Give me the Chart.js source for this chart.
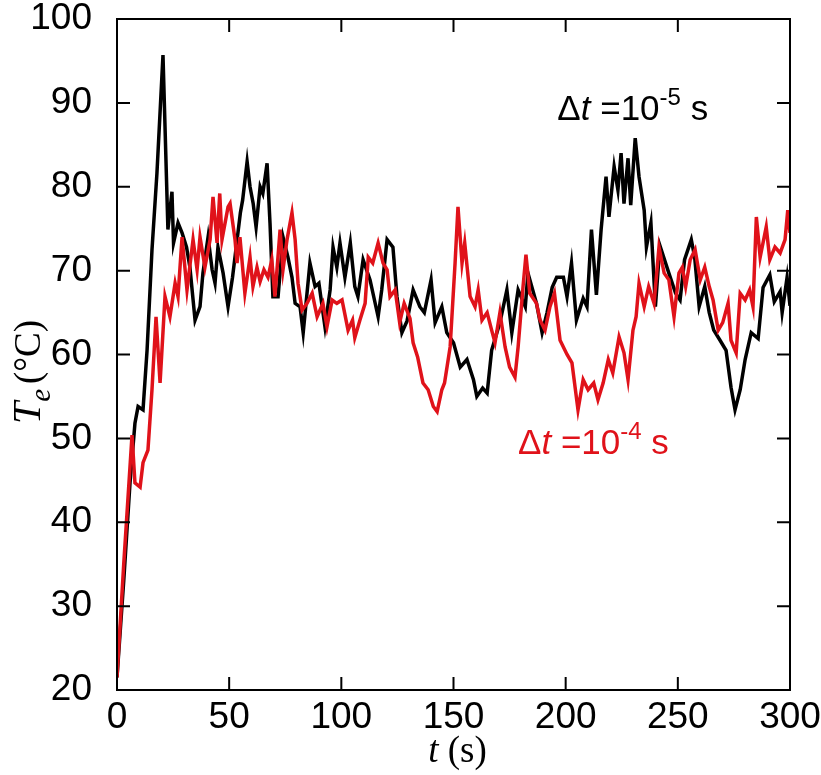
<!DOCTYPE html>
<html>
<head>
<meta charset="utf-8">
<script src="https://cdn.jsdelivr.net/npm/chart.js@4.4.1/dist/chart.umd.min.js"></script>
<style>
  html, body { margin: 0; padding: 0; background: #fff; }
</style>
</head>
<body>
<canvas id="chart" width="821" height="775"></canvas>
<script>
// time (s) and electron temperature (°C)
const blackTime = [0, 3, 5.8, 8, 9.4, 11.6, 13.4, 15.6, 17.8, 20.5, 22.7, 24.5, 25.2, 27.2, 29, 31, 32.5, 34.8, 37, 38.3,
  40.6, 42.4, 43.7, 45, 47.3, 49.5, 51.5, 55, 56, 58, 59.3, 60.7, 62, 63.8, 65, 66.9, 68.2, 69.5, 71.8, 74,
  76.2, 78, 79.4, 81.6, 83, 86, 88.3, 90, 92.7, 95, 96.3, 98, 99.4, 101.6, 104, 106, 107.4, 109.7, 112.8, 116.4,
  118, 120.4, 123, 124.8, 127, 129.3, 132, 135, 137, 140, 141.8, 144.8, 147, 150, 153, 156, 158.9, 160.4, 163, 165,
  167, 170.7, 173.8, 176, 178.8, 182, 183.2, 187, 189.5, 191.7, 194, 196, 199, 200.6, 202.6, 204.8, 207.8, 209.5, 211.5, 213.7,
  215.8, 218, 219.3, 221.6, 223.3, 224.7, 226, 227.8, 229, 231, 232.7, 235, 236, 238, 240, 242, 246, 249, 251, 253,
  256, 257.5, 259.5, 262, 264, 266, 268.8, 271.5, 273.7, 275.5, 277.8, 280, 282.7, 285.8, 288, 291, 293, 295.6, 296.5, 298.7, 300];
const blackTemp = [21.5, 33, 44.7, 51.8, 53.8, 53.4, 60.5, 72.5, 81.6, 95.7, 74.9, 79.4, 73.3, 75.7, 74.5, 72.8, 70.4, 64.1, 65.7, 69.7,
  74, 70.1, 68.5, 72.8, 69.7, 65.7, 69.2, 76.9, 78.4, 83, 80, 78, 75.2, 80, 79.2, 82.8, 75.7, 66.9, 66.9, 74,
  71.6, 69.2, 66.1, 65.7, 62.6, 70.9, 68.1, 68.5, 63.3, 67.7, 72.8, 70.4, 73.3, 69.2, 73.3, 68.1, 66.9, 71.3, 68.9, 64.5,
  67.7, 73.7, 72.8, 66.9, 62.6, 64, 67.7, 65.7, 65, 68.9, 63.8, 65.7, 62.6, 61.4, 58.5, 59.4, 57, 55, 56, 55.4,
  60.5, 63.8, 67.7, 62.6, 67.7, 65.7, 69.7, 66.1, 62.6, 65, 68, 69.2, 69.2, 66.9, 70.9, 64.1, 66.7, 65.7, 74.9, 67.1,
  74.9, 81.2, 76.4, 82.4, 79.6, 84, 78, 83.4, 77.8, 85.8, 81.2, 77.2, 72.8, 75.7, 65.7, 73, 69.7, 67.3, 66.5, 71.3,
  73.7, 71.6, 65.7, 68.1, 65, 62.9, 61.7, 60.5, 56.1, 53.4, 55.8, 59.4, 62.6, 61.9, 68, 69.5, 66.3, 67.5, 65, 69.2, 65.8];

const redTime = [0, 3, 6.7, 8, 10.3, 11.6, 13.8, 15.6, 17.4, 19.2, 21.4, 23.6, 25.9, 27.2, 29, 31.2, 33.9, 35.7, 37, 39.2,
  41.5, 42.8, 44.6, 45.8, 46.8, 49.5, 50.4, 52.6, 53.5, 54.8, 57, 59.3, 60.6, 62.4, 63.8, 65.5, 67.3, 69, 70.4, 72.7,
  74, 75.8, 78, 79.4, 80.7, 82.5, 84.7, 87, 89.2, 91.8, 93.6, 95.9, 98, 100.3, 103, 105, 106, 108.3, 110.6, 112,
  114, 116.4, 118.6, 120.4, 121.7, 124, 126, 128, 130.6, 132, 134, 136.4, 138.7, 141, 142.7, 144.8, 146, 148.5, 150.7, 152,
  153.8, 155, 157.4, 159.6, 161, 162.7, 165, 167, 168.5, 170.7, 173, 175, 177.4, 178.8, 181, 182.3, 184, 187, 188.6, 190.8,
  193, 195, 197.5, 200.6, 202.8, 205.5, 207.8, 210, 212.5, 214.4, 216.7, 219, 221, 223.8, 226, 227.8, 230, 231.4, 232.7, 235,
  237, 239.4, 241.6, 243.9, 246, 248.3, 250.5, 252, 253.5, 255.5, 257.7, 260, 262, 264, 265.7, 268, 270, 272.4, 273.7, 276,
  277.8, 280, 282, 283.5, 285, 286.7, 289.4, 291, 293.3, 295.6, 297.8, 299, 300];
const redTemp = [21.5, 35, 50.4, 44.7, 44.2, 47.1, 48.6, 55.8, 64.5, 56.6, 66.9, 64.5, 68.5, 66.9, 74, 67.7, 73.7, 70.1, 74, 70.4,
  73.7, 78.8, 73.3, 79.2, 73.7, 77.6, 78, 73.7, 70.9, 74, 67.3, 71.6, 68.1, 70.4, 68.7, 70.1, 69.2, 71.3, 66.9, 74.9,
  70.1, 73.7, 76.9, 73.7, 68.5, 65.3, 66.1, 67.3, 64.5, 66.1, 63.3, 66.5, 66.1, 66.5, 62.9, 64.1, 62, 64.1, 66.1, 71.6,
  70.9, 73.3, 70.9, 70.1, 66.9, 67.7, 63.8, 66.1, 64.3, 61.4, 59.7, 56.6, 55.8, 53.8, 53.2, 55.8, 56.6, 60.9, 70.9, 77.6,
  70.9, 73.3, 66.9, 65.7, 67.7, 64.1, 65, 62.9, 61.4, 65, 60.9, 58.5, 57.3, 60.9, 68.1, 71.9, 67.3, 66.1, 64.1, 62.9,
  65.7, 67.3, 61.7, 60, 59, 53.4, 57, 55.8, 56.6, 54.6, 56.6, 59.4, 57.8, 62.1, 60.2, 57, 62.9, 64.5, 68.5, 65.7,
  68.1, 66.1, 72.8, 69.7, 68.9, 64.5, 69.7, 70.4, 68.1, 71.3, 72.5, 68.9, 70.4, 68.1, 66.5, 62.9, 63.8, 66.1, 61.7, 60.2,
  67.3, 66.5, 67.7, 65.7, 76.4, 71.6, 75.2, 71.3, 72.8, 72.1, 73.7, 77.2, 74.5];

const xTickValues = [0, 50, 100, 150, 200, 250, 300];
const yTickValues = [20, 30, 40, 50, 60, 70, 80, 90, 100];

const RED = '#e0121a';
const SANS = '"Liberation Sans", Arial, sans-serif';
const SERIF = '"Liberation Serif", "Times New Roman", serif';

function toPoints(ts, vs) {
  return ts.map((t, i) => ({ x: t, y: vs[i] }));
}

// draw a run of text pieces, each with its own font, colour and vertical shift
function drawRuns(ctx, x, y, runs) {
  ctx.textBaseline = 'alphabetic';
  ctx.textAlign = 'left';
  runs.forEach(r => {
    ctx.font = r.font;
    ctx.fillStyle = r.color || '#000';
    ctx.fillText(r.text, x, y + (r.dy || 0));
    x += ctx.measureText(r.text).width + (r.gap || 0);
  });
}

function runsWidth(ctx, runs) {
  let w = 0;
  runs.forEach(r => { ctx.font = r.font; w += ctx.measureText(r.text).width + (r.gap || 0); });
  return w;
}

const framePlugin = {
  id: 'frame',
  afterDatasetsDraw(chart) {
    const { ctx, chartArea: a, scales: { x, y } } = chart;
    ctx.save();
    ctx.strokeStyle = '#000';
    ctx.lineWidth = 2;
    ctx.strokeRect(a.left, a.top, a.right - a.left, a.bottom - a.top);
    const tl = 13;
    ctx.beginPath();
    xTickValues.forEach(v => {
      const px = x.getPixelForValue(v);
      ctx.moveTo(px, a.bottom); ctx.lineTo(px, a.bottom - tl);
      ctx.moveTo(px, a.top); ctx.lineTo(px, a.top + tl);
    });
    yTickValues.forEach(v => {
      const py = y.getPixelForValue(v);
      ctx.moveTo(a.left, py); ctx.lineTo(a.left + tl, py);
      ctx.moveTo(a.right, py); ctx.lineTo(a.right - tl, py);
    });
    ctx.stroke();
    ctx.restore();
  },
  afterDraw(chart) {
    const { ctx, chartArea: a, scales: { x, y } } = chart;
    ctx.save();

    // x axis title: t (s)
    const xRuns = [
      { text: 't', font: 'italic 37px ' + SERIF },
      { text: ' (s)', font: '37px ' + SERIF }
    ];
    const xw = runsWidth(ctx, xRuns);
    drawRuns(ctx, (a.left + a.right) / 2 - xw / 2 + 4, 762, xRuns);

    // y axis title: T_e (°C), rotated
    const yRuns = [
      { text: 'T', font: 'italic 40px ' + SERIF },
      { text: 'e', font: 'italic 29px ' + SERIF, dy: 10, gap: 5 },
      { text: '(°C)', font: '37px ' + SERIF }
    ];
    const yw = runsWidth(ctx, yRuns);
    ctx.translate(40, 372);
    ctx.rotate(-Math.PI / 2);
    drawRuns(ctx, -yw / 2, 0, yRuns);
    ctx.setTransform(1, 0, 0, 1, 0, 0);

    // curve labels
    const lab = (color, exp) => [
      { text: 'Δ', font: '35px ' + SANS, color },
      { text: 't', font: 'italic 35px ' + SANS, color },
      { text: ' =10', font: '35px ' + SANS, color },
      { text: exp, font: '24px ' + SANS, color, dy: -15 },
      { text: ' s', font: '35px ' + SANS, color }
    ];
    drawRuns(ctx, x.getPixelForValue(196.3), y.getPixelForValue(88.0), lab('#000', '-5'));
    drawRuns(ctx, x.getPixelForValue(178.8), y.getPixelForValue(48.1), lab(RED, '-4'));
    ctx.restore();
  }
};

new Chart(document.getElementById('chart'), {
  type: 'line',
  data: {
    datasets: [
      {
        label: 'Δt = 1e-5 s',
        data: toPoints(blackTime, blackTemp),
        borderColor: '#000',
        borderWidth: 3.5,
        pointRadius: 0,
        tension: 0,
        order: 2
      },
      {
        label: 'Δt = 1e-4 s',
        data: toPoints(redTime, redTemp),
        borderColor: RED,
        borderWidth: 3.5,
        pointRadius: 0,
        tension: 0,
        order: 1
      }
    ]
  },
  options: {
    responsive: false,
    animation: false,
    layout: { padding: { top: 19, right: 31, left: 0, bottom: 0 } },
    plugins: {
      legend: { display: false },
      tooltip: { enabled: false }
    },
    scales: {
      x: {
        type: 'linear',
        min: 0,
        max: 300,
        afterFit(s) { s.height = 85; s.paddingLeft = 0; s.paddingRight = 0; },
        afterBuildTicks(s) { s.ticks = xTickValues.map(v => ({ value: v })); },
        grid: { display: false, drawTicks: false },
        border: { display: false },
        ticks: { color: '#000', padding: 6, maxRotation: 0, font: { family: SANS, size: 37 } }
      },
      y: {
        min: 20,
        max: 100,
        afterFit(s) { s.width = 117; s.paddingTop = 0; s.paddingBottom = 0; },
        afterBuildTicks(s) { s.ticks = yTickValues.map(v => ({ value: v })); },
        grid: { display: false, drawTicks: false },
        border: { display: false },
        ticks: { color: '#000', padding: 25, font: { family: SANS, size: 37 } }
      }
    }
  },
  plugins: [framePlugin]
});
</script>
</body>
</html>
